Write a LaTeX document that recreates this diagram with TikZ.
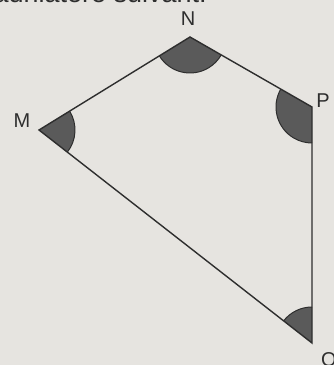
\documentclass[tikz,border=0pt]{standalone}
\usepackage{fontspec}
\setmainfont{Liberation Sans}
\usetikzlibrary{angles}
\definecolor{paper}{HTML}{E6E4E0}
\definecolor{ink}{HTML}{2E2E2E}
\definecolor{shade}{HTML}{5A5A5A}
\tikzset{
  edge/.style={draw=ink, line width=1.4pt, line join=miter},
  vlabel/.style={text=ink, font=\fontsize{20}{24}\selectfont, inner sep=0pt},
  anglemark/.style={draw=ink, fill=shade, line width=1pt, angle radius=36pt},
}
\begin{document}
\begin{tikzpicture}[x=1pt,y=1pt]
  \fill[paper] (0,0) rectangle (334,365);
  \useasboundingbox (0,0) rectangle (334,365);
  \clip (0,0) rectangle (334,365);
  \node[vlabel, anchor=base east, text depth=0pt, font=\fontsize{27}{30}\selectfont] (title) at (207,362) {quadrilatère suivant.};
  \coordinate (M) at (39,235);
  \coordinate (N) at (190,328);
  \coordinate (P) at (312,258);
  \coordinate (Q) at (312,22);
  \pic[anglemark] {angle = Q--M--N};
  \pic[anglemark] {angle = M--N--P};
  \pic[anglemark] {angle = N--P--Q};
  \pic[anglemark] {angle = P--Q--M};
  \draw[edge] (M) -- (N) -- (P) -- (Q) -- cycle;
  \node[vlabel] (lN) at (188,346) {N};
  \node[vlabel] (lM) at (22,244) {M};
  \node[vlabel] (lP) at (323,264) {P};
  \node[vlabel] (lQ) at (329,4) {Q};
\end{tikzpicture}
\end{document}
